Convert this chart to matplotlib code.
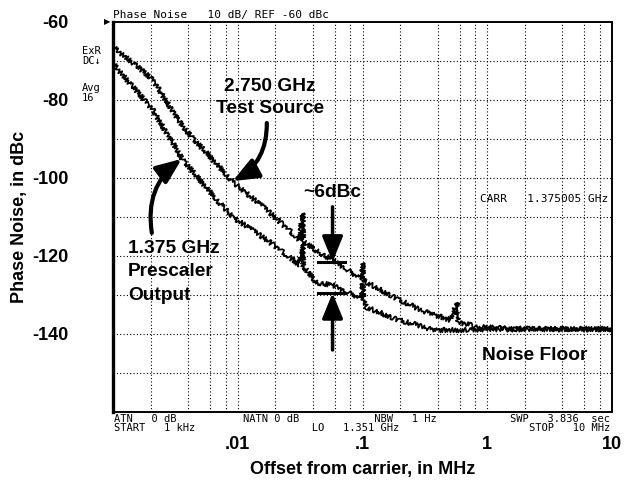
"""
Phase noise of a 2.750 GHz test source vs. the 1.375 GHz prescaler output
(HP analyzer screen dump look: log offset axis, dotted grid, ~6 dB gap).
"""

import matplotlib
matplotlib.use("Agg")
import matplotlib.pyplot as plt

# offsets in MHz / phase noise in dBc
SRC_FREQ = [0.001, 0.00145, 0.00209, 0.00363, 0.0047, 0.00565, 0.00912,
            0.0171, 0.0313, 0.0331, 0.0335, 0.0453, 0.0575, 0.0985, 0.1,
            0.102, 0.198, 0.30, 0.497, 0.575, 0.58, 0.863, 1.5, 3.0, 6.0, 10.0]
SRC_DBC = [-66.4, -70.5, -74.9, -86.9, -91.0, -93.6, -101.0,
           -108.2, -115.9, -109.0, -116.3, -119.2, -121.0, -126.0, -121.8,
           -126.3, -131.3, -134.0, -136.4, -132.0, -137.0, -138.2, -138.6,
           -138.7, -138.7, -138.7]

PRE_FREQ = [0.001, 0.00145, 0.00209, 0.00363, 0.0068, 0.00912, 0.0171,
            0.0313, 0.0331, 0.0335, 0.0428, 0.0575, 0.0985, 0.1, 0.102,
            0.107, 0.198, 0.30, 0.363, 0.525, 1.0, 3.0, 10.0]
PRE_DBC = [-70.6, -76.7, -82.6, -95.4, -105.6, -110.0, -115.9,
           -122.3, -116.8, -122.6, -126.9, -127.4, -131.0, -127.0, -131.2,
           -133.1, -136.5, -138.0, -139.0, -139.0, -138.8, -138.8, -138.8]

X_TICKS = [0.01, 0.1, 1, 10]
X_LABELS = [".01", ".1", "1", "10"]
Y_TICKS = [-60, -80, -100, -120, -140]

BOLD = dict(family="Liberation Sans", fontweight="bold")
MONO = dict(family="DejaVu Sans Mono", color="black")
CALLOUT = 13.8


def grid_positions():
    # HP screen grid: decades plus 2,4,6,8 inside each decade
    xs = []
    for dec in [0.001, 0.01, 0.1, 1]:
        xs += [dec * m for m in (1, 2, 4, 6, 8)]
    return xs + [10]


def main():
    fig = plt.figure(figsize=(6.24, 4.8), dpi=100, facecolor="white")
    ax = fig.add_axes([0.181, 0.1417, 0.800, 0.8125])

    ax.set_xscale("log")
    ax.set_xlim(0.001, 10)
    ax.set_ylim(-160, -60)

    for gx in grid_positions():
        ax.axvline(gx, color="black", lw=0.8, ls=(0, (1, 2)), zorder=1)
    for gy in range(-150, -60, 10):
        ax.axhline(gy, color="black", lw=0.8, ls=(0, (1, 2)), zorder=1)

    for f, d in [(SRC_FREQ, SRC_DBC), (PRE_FREQ, PRE_DBC)]:
        ln, = ax.plot(f, d, color="black", lw=1.25, zorder=3)
        ln.set_sketch_params(scale=2.4, length=1.6, randomness=3.0)

    ax.set_xticks(X_TICKS)
    ax.set_xticklabels(X_LABELS)
    ax.xaxis.set_minor_locator(matplotlib.ticker.NullLocator())
    ax.set_yticks(Y_TICKS)
    ax.set_yticklabels([str(v) for v in Y_TICKS])
    ax.tick_params(axis="x", length=0, pad=17, labelsize=13)
    ax.tick_params(axis="y", length=0, pad=32, labelsize=13)
    for lab in ax.get_xticklabels() + ax.get_yticklabels():
        lab.set_fontfamily("Liberation Sans")
        lab.set_fontweight("bold")

    ax.set_xlabel("Offset from carrier, in MHz", fontsize=13, labelpad=6, **BOLD)
    ax.set_ylabel("Phase Noise, in dBc", fontsize=13, labelpad=3, **BOLD)

    for side in ["top", "right", "bottom"]:
        ax.spines[side].set_linewidth(1.4)
    ax.spines["left"].set_linewidth(2.4)

    # analyzer screen annotations
    ax.text(0.0, 1.011, "Phase Noise   10 dB/ REF -60 dBc", transform=ax.transAxes,
            fontsize=8, va="baseline", ha="left", **MONO)
    ax.text(-0.004, 1.0, "\u25b6", transform=ax.transAxes, fontsize=6,
            ha="right", va="center", color="black")
    ax.text(-0.062, 0.913, "ExR\nDC\u2193", transform=ax.transAxes, fontsize=7.5,
            ha="left", va="center", linespacing=0.95, **MONO)
    ax.text(-0.062, 0.818, "Avg\n16", transform=ax.transAxes, fontsize=7.5,
            ha="left", va="center", linespacing=0.95, **MONO)
    ax.text(0.735, 0.546, "CARR   1.375005 GHz", transform=ax.transAxes,
            fontsize=8, ha="left", va="center", **MONO)

    rows = dict(transform=ax.transAxes, fontsize=7.5, va="top", linespacing=0.85)
    ax.text(0.002, -0.006, "ATN   0 dB\nSTART   1 kHz", ha="left", **rows, **MONO)
    ax.text(0.26, -0.006, "NATN 0 dB" + " " * 12 + "NBW   1 Hz\n" + " " * 11 + "LO   1.351 GHz",
            ha="left", **rows, **MONO)
    ax.text(0.996, -0.006, "SWP   3.836  sec\nSTOP   10 MHz", ha="right",
            multialignment="right", **rows, **MONO)

    # callouts
    ax.text(0.018, -79.4, "2.750 GHz\nTest Source", fontsize=CALLOUT, ha="center",
            va="center", linespacing=1.35, **BOLD)
    ax.text(0.00132, -124.0, "1.375 GHz\nPrescaler\nOutput", fontsize=CALLOUT,
            ha="left", va="center", linespacing=1.5, **BOLD)
    ax.text(0.0567, -103.6, "~6dBc", fontsize=CALLOUT, ha="center", va="center", **BOLD)
    ax.text(2.38, -145.4, "Noise Floor", fontsize=CALLOUT, ha="center", va="center", **BOLD)

    head = "-|>,head_length=1.1,head_width=0.45"
    ax.annotate("", xy=(0.0091, -100.8), xytext=(0.0171, -85.9),
                arrowprops=dict(arrowstyle=head, lw=3, color="black",
                                connectionstyle="arc3,rad=-0.3",
                                shrinkA=0, shrinkB=0, mutation_scale=14))
    ax.annotate("", xy=(0.00356, -95.1), xytext=(0.00205, -114.1),
                arrowprops=dict(arrowstyle=head, lw=3, color="black",
                                connectionstyle="arc3,rad=-0.3",
                                shrinkA=0, shrinkB=0, mutation_scale=14))
    ax.annotate("", xy=(0.0575, -121.5), xytext=(0.0575, -107.4),
                arrowprops=dict(arrowstyle=head, lw=2.5, color="black",
                                shrinkA=0, shrinkB=0, mutation_scale=14))
    ax.annotate("", xy=(0.0575, -129.5), xytext=(0.0575, -144.1),
                arrowprops=dict(arrowstyle=head, lw=2.5, color="black",
                                shrinkA=0, shrinkB=0, mutation_scale=14))
    ax.plot([0.0436, 0.0717], [-121.5, -121.5], color="black", lw=2.2, zorder=4)
    ax.plot([0.0436, 0.0717], [-129.5, -129.5], color="black", lw=2.2, zorder=4)

    fig.savefig("out.png", dpi=100, facecolor="white")
    plt.close(fig)


if __name__ == "__main__":
    main()
